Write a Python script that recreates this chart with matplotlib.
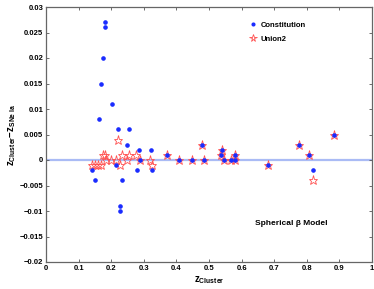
import matplotlib
matplotlib.use("Agg")
import matplotlib.pyplot as plt

# Constitution (blue dots)
const_z = [0.141, 0.151, 0.163, 0.170, 0.175, 0.182, 0.182, 0.201, 0.215, 0.222,
           0.228, 0.228, 0.233, 0.249, 0.254, 0.280, 0.286, 0.288, 0.321, 0.325,
           0.372, 0.409, 0.447, 0.479, 0.486, 0.538, 0.540, 0.546, 0.566, 0.579,
           0.580, 0.681, 0.777, 0.807, 0.820, 0.883]
const_dz = [-0.002, -0.004, 0.008, 0.015, 0.020, 0.027, 0.026, 0.011, -0.001, 0.006,
            -0.009, -0.010, -0.004, 0.003, 0.006, -0.002, 0.002, 0.000, 0.002, -0.002,
            0.001, 0.000, 0.000, 0.003, 0.000, 0.001, 0.002, 0.000, 0.000, 0.000,
            0.001, -0.001, 0.003, 0.001, -0.002, 0.005]

# Union2 (red stars)
union_z = [0.142, 0.150, 0.160, 0.170, 0.176, 0.181, 0.184, 0.200, 0.215, 0.222,
           0.227, 0.233, 0.249, 0.254, 0.276, 0.288, 0.319, 0.325,
           0.372, 0.409, 0.447, 0.479, 0.486, 0.538, 0.540, 0.546, 0.566, 0.579,
           0.580, 0.681, 0.777, 0.807, 0.820, 0.883]
union_dz = [-0.001, -0.001, -0.001, -0.001, 0.001, 0.001, 0.000, 0.000, 0.000, 0.004,
            -0.001, 0.001, 0.000, 0.001, 0.001, 0.000, 0.000, -0.001,
            0.001, 0.000, 0.000, 0.003, 0.000, 0.001, 0.002, 0.000, 0.000, 0.000,
            0.001, -0.001, 0.003, 0.001, -0.004, 0.005]

xticks = [0, 0.1, 0.2, 0.3, 0.4, 0.5, 0.6, 0.7, 0.8, 0.9, 1]
yticks = [-0.02, -0.015, -0.01, -0.005, 0, 0.005, 0.01, 0.015, 0.02, 0.025, 0.03]
xtick_labels = ["0", "0.1", "0.2", "0.3", "0.4", "0.5", "0.6", "0.7", "0.8", "0.9", "1"]
ytick_labels = ["\u22120.02", "\u22120.015", "\u22120.01", "\u22120.005", "0", "0.005",
                "0.01", "0.015", "0.02", "0.025", "0.03"]

plt.rcParams['font.family'] = ['Liberation Sans', 'DejaVu Sans']
plt.rcParams['font.weight'] = 'bold'
plt.rcParams['mathtext.fontset'] = 'custom'
plt.rcParams['mathtext.rm'] = 'Liberation Sans:bold'
plt.rcParams['mathtext.it'] = 'Liberation Sans:bold'
plt.rcParams['mathtext.bf'] = 'Liberation Sans:bold'

fig = plt.figure(figsize=(3.74, 2.89), dpi=100)
ax = fig.add_axes([46/374, 1 - 262/289, (372-46)/374, (262-7)/289])

ax.axhline(0, color='#aabbf5', lw=1.6, zorder=1)

ax.plot(union_z, union_dz, linestyle='none', marker='*', markersize=6.5,
        markerfacecolor='none', markeredgecolor='#ff5050', markeredgewidth=0.6,
        label='Union2', zorder=2)
ax.plot(const_z, const_dz, linestyle='none', marker='o', markersize=2.3,
        markerfacecolor='#1a2cff', markeredgecolor='#1a2cff', label='Constitution', zorder=3)

ax.set_xlim(0, 1)
ax.set_ylim(-0.02, 0.03)
ax.set_xticks(xticks)
ax.set_xticklabels(xtick_labels)
ax.set_yticks(yticks)
ax.set_yticklabels(ytick_labels)
ax.tick_params(direction='in', length=2.5, width=0.6, labelsize=5.5, pad=2,
               top=True, right=True, color='#555555')
for s in ax.spines.values():
    s.set_color('#666666')
    s.set_linewidth(0.9)

ax.set_xlabel(r'$\mathrm{z}_{\mathrm{Cluster}}$', fontsize=7, labelpad=2)
ax.set_ylabel(r'$\mathrm{z}_{\mathrm{Cluster}}\mathrm{-z}_{\mathrm{SNe\ Ia}}$', fontsize=7, labelpad=1)

handles, labels = ax.get_legend_handles_labels()
leg = ax.legend([handles[1], handles[0]], [labels[1], labels[0]],
                loc='upper left', bbox_to_anchor=(0.6, 0.97), frameon=False,
                fontsize=5.5, handlelength=1.2, handletextpad=0.4, labelspacing=0.9,
                markerscale=0.85)

ax.text(0.64, 0.145, 'Spherical \u03b2 Model', transform=ax.transAxes,
        fontsize=6, fontweight='bold')

fig.savefig('out.png', dpi=100)
